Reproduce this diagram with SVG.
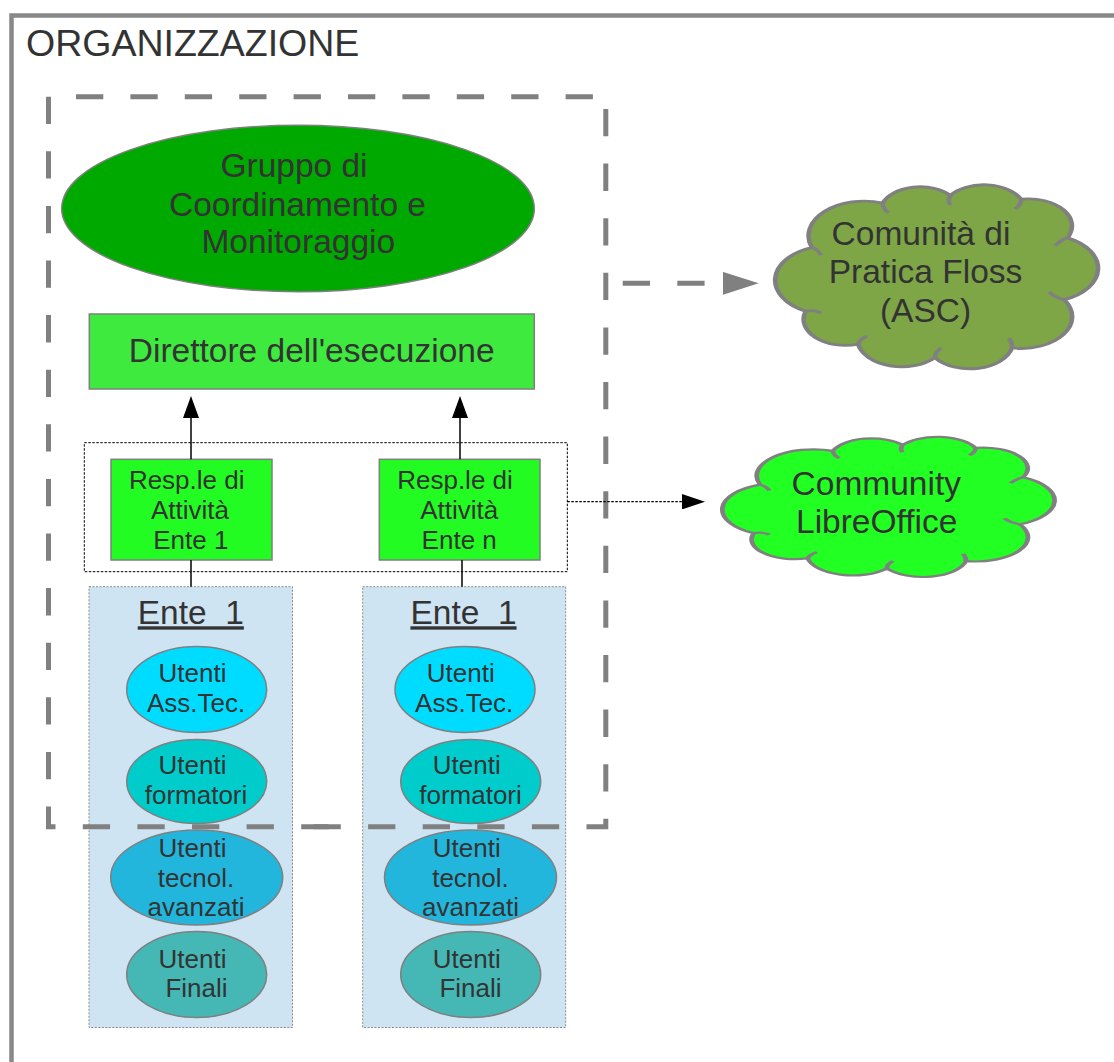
<svg xmlns="http://www.w3.org/2000/svg" width="1114" height="1062" viewBox="0 0 1114 1062">
<defs>
<style>
text { font-family: "Liberation Sans", Arial, sans-serif; fill: #333333; text-anchor: middle; }
.big { font-size: 33.5px; }
.mid { font-size: 26px; }
.shape { stroke: #7f7f7f; stroke-width: 1.5; }
.ente { fill: #cfe4f2; stroke: #8a8a8a; stroke-width: 1; stroke-dasharray: 2 1.5; }
.dash5 { fill: none; stroke: #808080; stroke-width: 5; stroke-dasharray: 27.3 27.3; }
.cloud { stroke: #808080; stroke-width: 1.5; vector-effect: non-scaling-stroke; }
.cloudin { fill: none; stroke: #808080; stroke-width: 1.5; vector-effect: non-scaling-stroke; }
.solid { fill: none; stroke: #000; stroke-width: 1.5; }
</style>
<marker id="ahBlack" viewBox="0 0 22 16" refX="0" refY="8" markerWidth="22" markerHeight="16" orient="auto" markerUnits="userSpaceOnUse">
<path d="M0,0 L22,8 L0,16 Z" fill="#000" stroke="none"/>
</marker>
<marker id="ahSmall" viewBox="0 0 23 15.4" refX="0" refY="7.7" markerWidth="23" markerHeight="15.4" orient="auto" markerUnits="userSpaceOnUse">
<path d="M0,0 L23,7.7 L0,15.4 Z" fill="#000" stroke="none"/>
</marker>
<marker id="ahGrey" viewBox="0 0 36 23" refX="0" refY="11.5" markerWidth="36" markerHeight="23" orient="auto" markerUnits="userSpaceOnUse">
<path d="M0,0 L36,11.5 L0,23 Z" fill="#808080" stroke="none"/>
</marker>
<path id="cloudShape" d="M 10,35 A 18 18 0 0 1 33,12 A 13 13 0 0 1 55,8 A 13.5 13.5 0 0 1 78,10 A 14 14 0 0 1 93,30 A 17.5 17.5 0 0 1 92,62 A 16.5 16.5 0 0 1 75,87 A 14 14 0 0 1 50,92 A 14.5 14.5 0 0 1 25,85 A 13.5 13.5 0 0 1 8,68 A 18 18 0 0 1 10,35 Z"/>
<path id="cloudInner" d="M 10,35 q 2,1 3,4 M 33,12 q 0,3 2,5 M 55,8 q -1,3 0,5 M 78,10 q 0,3 -2,5 M 93,30 q -2,1 -4,4 M 92,62 q -3,-1 -5,-4 M 75,87 q 0,-3 -1,-5 M 50,92 q 0,-3 2,-5 M 25,85 q 1,-3 3,-4 M 8,68 q 3,-1 5,1"/>
</defs>

<rect x="0" y="0" width="1114" height="1062" fill="#ffffff"/>

<g id="organizzazione">
<path d="M 11.5,1062 V 15.5 H 1114" fill="none" stroke="#888888" stroke-width="4.5"/>
<text x="26" y="56" style="font-size:37.5px;text-anchor:start">ORGANIZZAZIONE</text>
</g>

<g id="gruppo">
<ellipse cx="298" cy="208.5" rx="236.3" ry="83.3" fill="#00a900" class="shape"/>
<text class="big" x="294" y="177.3">Gruppo di</text>
<text class="big" x="297.5" y="215.7">Coordinamento e</text>
<text class="big" x="298.3" y="253.3">Monitoraggio</text>
</g>

<g id="direttore">
<rect x="89.3" y="314" width="445" height="75" fill="#3fea3f" class="shape"/>
<text class="big" x="311.7" y="361.7">Direttore dell'esecuzione</text>
</g>

<g id="resp-group">
<rect x="84.3" y="442.7" width="483" height="129" fill="none" stroke="#000" stroke-width="1" stroke-dasharray="2.5 1.5"/>
</g>

<g id="resp1">
<rect x="111" y="459.3" width="161" height="100.7" fill="#22fc22" class="shape"/>
<text class="mid" x="186.7" y="489">Resp.le di</text>
<text class="mid" x="190" y="519">Attività</text>
<text class="mid" x="190.8" y="549">Ente 1</text>
</g>

<g id="respn">
<rect x="379.3" y="459.3" width="160.7" height="100.7" fill="#22fc22" class="shape"/>
<text class="mid" x="455" y="489">Resp.le di</text>
<text class="mid" x="459.2" y="519">Attività</text>
<text class="mid" x="459.2" y="549">Ente n</text>
</g>

<g id="ente1">
<rect class="ente" x="89" y="586.7" width="203.5" height="440.8"/>
<text class="big" x="190.8" y="624.3" style="white-space:pre;text-decoration:underline">Ente  1</text>
<g id="ente1-asstec">
<ellipse cx="196.7" cy="689.5" rx="70" ry="43" fill="#00dcff" class="shape"/>
<text class="mid" x="192.5" y="682">Utenti</text>
<text class="mid" x="196" y="712">Ass.Tec.</text>
</g>
<g id="ente1-formatori">
<ellipse cx="196.7" cy="781.5" rx="70" ry="42" fill="#00cccc" class="shape"/>
<text class="mid" x="192.5" y="773.5">Utenti</text>
<text class="mid" x="196" y="803.5">formatori</text>
</g>
<g id="ente1-tecnol">
<ellipse cx="196.7" cy="877.5" rx="86" ry="47.5" fill="#23b6dc" class="shape"/>
<text class="mid" x="192.5" y="857">Utenti</text>
<text class="mid" x="196" y="886.5">tecnol.</text>
<text class="mid" x="196" y="916">avanzati</text>
</g>
<g id="ente1-finali">
<ellipse cx="196.7" cy="974.5" rx="70" ry="43" fill="#45b8b5" class="shape"/>
<text class="mid" x="192.5" y="967.5">Utenti</text>
<text class="mid" x="196.5" y="997">Finali</text>
</g>
</g>

<g id="enten">
<rect class="ente" x="362.7" y="586.7" width="203" height="440.8"/>
<text class="big" x="463.5" y="624.3" style="white-space:pre;text-decoration:underline">Ente  1</text>
<g id="enten-asstec">
<ellipse cx="465" cy="689.5" rx="70" ry="43" fill="#00dcff" class="shape"/>
<text class="mid" x="460.8" y="682">Utenti</text>
<text class="mid" x="464.2" y="712">Ass.Tec.</text>
</g>
<g id="enten-formatori">
<ellipse cx="470.7" cy="781.5" rx="70" ry="42" fill="#00cccc" class="shape"/>
<text class="mid" x="466.7" y="773.5">Utenti</text>
<text class="mid" x="470.5" y="803.5">formatori</text>
</g>
<g id="enten-tecnol">
<ellipse cx="470.5" cy="877.5" rx="86" ry="47.5" fill="#23b6dc" class="shape"/>
<text class="mid" x="466.7" y="857">Utenti</text>
<text class="mid" x="470.5" y="886.5">tecnol.</text>
<text class="mid" x="470.5" y="916">avanzati</text>
</g>
<g id="enten-finali">
<ellipse cx="470.7" cy="974.5" rx="70" ry="43" fill="#45b8b5" class="shape"/>
<text class="mid" x="466.7" y="967.5">Utenti</text>
<text class="mid" x="470.5" y="997">Finali</text>
</g>
</g>

<g id="area-dashed">
<path class="dash5" d="M 48.5,96.7 V 826.8 H 330"/>
<path class="dash5" d="M 313.5,826.8 H 605.8 V 96.7"/>
<path class="dash5" d="M 76,96.7 H 600" style="stroke-dasharray:27.3 27.1"/>
</g>

<g id="comunita-floss">
<g transform="translate(781,180) scale(3.08,1.93)">
<use href="#cloudShape" class="cloud" fill="#7ea647"/>
<use href="#cloudInner" class="cloudin"/>
</g>
<text class="big" x="921" y="245">Comunità di</text>
<text class="big" x="925.5" y="283.3">Pratica Floss</text>
<text class="big" x="925.5" y="321.7">(ASC)</text>
</g>

<g id="community-libreoffice">
<g transform="translate(728.3,433.2) scale(3.17,1.47)">
<use href="#cloudShape" class="cloud" fill="#22ff22"/>
<use href="#cloudInner" class="cloudin"/>
</g>
<text class="big" x="876.3" y="495">Community</text>
<text class="big" x="876.7" y="533.3">LibreOffice</text>
</g>

<g id="connectors">
<line class="solid" x1="191" y1="459.3" x2="191" y2="418" marker-end="url(#ahBlack)"/>
<line class="solid" x1="460" y1="459.3" x2="460" y2="418" marker-end="url(#ahBlack)"/>
<line class="solid" x1="191" y1="560" x2="191" y2="586.7"/>
<line class="solid" x1="462" y1="560" x2="462" y2="586.7"/>
<line x1="622.7" y1="283.3" x2="722.7" y2="283.3" fill="none" stroke="#808080" stroke-width="5" stroke-dasharray="27.3 27.3" marker-end="url(#ahGrey)"/>
<line x1="567.3" y1="501.7" x2="682" y2="501.7" fill="none" stroke="#000" stroke-width="1.2" stroke-dasharray="2.5 1.5" marker-end="url(#ahSmall)"/>
</g>
</svg>
